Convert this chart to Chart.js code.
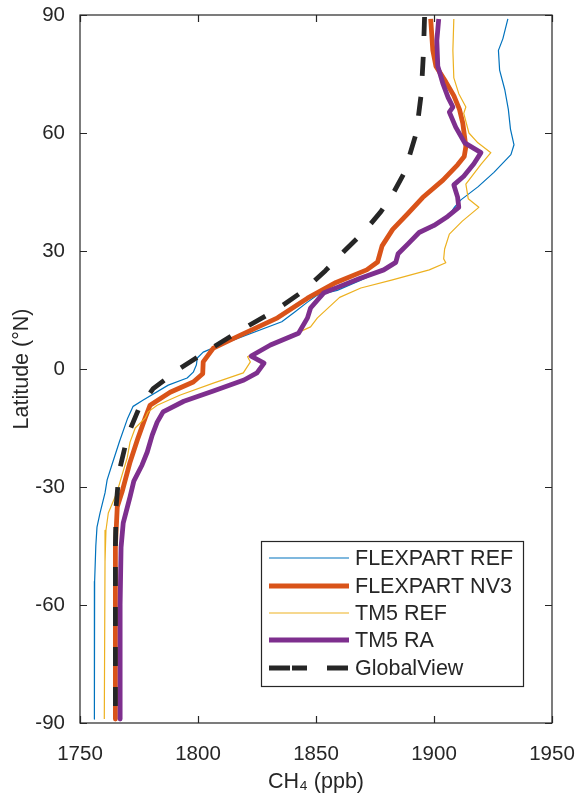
<!DOCTYPE html>
<html>
<head>
<meta charset="utf-8">
<script src="https://cdn.jsdelivr.net/npm/chart.js@4.4.1/dist/chart.umd.min.js"></script>
<style>
  html, body { margin: 0; padding: 0; background: #ffffff; }
  #wrap { width: 577px; height: 803px; position: relative; }
</style>
</head>
<body>
<div id="wrap"><canvas id="c"></canvas></div>
<script>
// ---------- data (latitude in °N, CH4 in ppb) ----------
const seriesNames = ["FLEXPART REF", "FLEXPART NV3", "TM5 REF", "TM5 RA", "GlobalView"];

const latFlexRef = [89, 84, 81, 76, 71, 66, 61, 57, 54.5, 50, 46.3, 43, 41, 38.6, 36.1, 34.6, 32, 29.5, 27, 25.2, 22.6, 20, 18.8, 17, 14.5, 12, 6, 4.3, 2.8, 1, -0.8, -2.3, -4.1, -7.9, -9.5, -12.5, -18.3, -24.4, -28.2, -31.5, -36.6, -40.2, -45, -54, -89];
const ch4FlexRef = [1931.3, 1929.2, 1927.3, 1927.8, 1930, 1931.5, 1932.4, 1933.9, 1932.6, 1925.4, 1918.6, 1911.4, 1908.5, 1905.8, 1899.9, 1894.4, 1889.3, 1885, 1883.8, 1878.7, 1869, 1859, 1850.6, 1846.4, 1841, 1835.5, 1809, 1802.2, 1799.7, 1799.3, 1798, 1795.4, 1787.4, 1776.8, 1772.5, 1770.2, 1766.8, 1763.5, 1761.5, 1760.6, 1758.5, 1757.2, 1756.7, 1756.2, 1756.1];

const latFlexNv3 = [89, 81, 77, 73, 69.5, 66, 62.5, 56.5, 54, 51.9, 48, 43.6, 39.5, 35.5, 31.3, 27.2, 25.2, 22, 18, 13, 8.6, 5.3, 1.8, -1.2, -3.3, -5.9, -9.2, -12.5, -17.5, -23.7, -31.3, -35, -45, -89];
const ch4FlexNv3 = [1898.6, 1899.5, 1900.8, 1905, 1908.4, 1910.8, 1912.2, 1913.5, 1912.8, 1910, 1903.8, 1895.2, 1888.9, 1882.5, 1878, 1876.1, 1871.5, 1858.5, 1846.4, 1833.7, 1818, 1806.5, 1802.2, 1802, 1798, 1788.2, 1779.7, 1777.6, 1774.6, 1771.2, 1767.8, 1765.8, 1765, 1765];

const latTm5Ref = [89, 81, 74, 70, 66.6, 65, 60, 57.5, 55, 52, 47, 43.3, 41.1, 37.6, 34.3, 30.5, 28, 27, 25.2, 22.6, 20.6, 18.2, 13, 10.7, 6.9, 3.1, 1.8, -1, -3.6, -6.6, -9.2, -10.9, -12.5, -15, -18.6, -22.6, -27, -31.3, -36.6, -41, -49, -89];
const ch4Tm5Ref = [1908.4, 1908, 1908.4, 1910.5, 1913.5, 1912.6, 1914.8, 1918.6, 1924.1, 1919.9, 1913.5, 1914.5, 1919, 1912, 1906.5, 1904.5, 1904.1, 1905, 1898, 1882, 1869, 1860, 1850.6, 1847.7, 1833.7, 1821, 1822.2, 1819.2, 1806.5, 1792.5, 1782.7, 1778.9, 1777.6, 1773.4, 1771.2, 1770, 1767.8, 1765.7, 1762, 1761, 1760.6, 1760.3];

const latTm5Ra = [89, 83.5, 77, 72.7, 69, 66.6, 65.3, 61.5, 57.5, 55, 52.2, 49, 46.8, 43.7, 41.1, 38.8, 36.5, 34.7, 31.8, 29.3, 27.1, 25.2, 23, 20.5, 19.3, 15.5, 13, 9.1, 6.1, 3.3, 1.5, -1, -2.8, -5.6, -8.2, -10.9, -13.5, -16.8, -21.1, -24.4, -28.5, -32.5, -39.2, -45.3, -60, -89];
const ch4Tm5Ra = [1902, 1901.2, 1901.6, 1903.7, 1906, 1908, 1906.5, 1909.2, 1913, 1919.9, 1916.9, 1912.6, 1908.4, 1910, 1910.5, 1905.8, 1900, 1893.7, 1889, 1884.8, 1883.8, 1878.7, 1868.5, 1858, 1853.2, 1847.7, 1846.4, 1842.6, 1830.7, 1822.5, 1828, 1825, 1819.5, 1806.5, 1794, 1785.2, 1782.7, 1780.6, 1778.5, 1776.3, 1772.8, 1771.2, 1768.3, 1767.4, 1767, 1767];

const latGlobalView = [89.5, 80, 70, 60, 50, 45, 40, 35, 30, 25, 20, 15, 10, 5, 0, -5, -10, -15, -20, -25, -30, -35, -45, -90];
const ch4GlobalView = [1896, 1895.5, 1894.6, 1892.5, 1887.5, 1883, 1877.5, 1870.5, 1862, 1854, 1845, 1833, 1818.5, 1805, 1792, 1781, 1775, 1771.5, 1769, 1767, 1766, 1765.3, 1765, 1765];

const xTickValues = [1750, 1800, 1850, 1900, 1950];
const yTickValues = [-90, -60, -30, 0, 30, 60, 90];

// ---------- styling ----------
const seriesColors = ["#0072BD", "#D95319", "#EDB120", "#7E2F8E", "#262626"];
const seriesWidths = [1.2, 4.8, 1.2, 4.8, 4.8];
const FONT = "'Liberation Sans', Arial, Helvetica, sans-serif";
const TXT = "#262626";

function pts(lat, ch4) { return lat.map((l, i) => ({ x: ch4[i], y: l })); }
const rawSeries = [
  pts(latFlexRef, ch4FlexRef),
  pts(latFlexNv3, ch4FlexNv3),
  pts(latTm5Ref, ch4Tm5Ref),
  pts(latTm5Ra, ch4Tm5Ra),
  pts(latGlobalView, ch4GlobalView)
];

const datasets = rawSeries.map((d, i) => ({
  label: seriesNames[i],
  data: d,
  showLine: true,
  borderColor: seriesColors[i],
  backgroundColor: seriesColors[i],
  borderWidth: seriesWidths[i],
  borderDash: i === 4 ? [19, 21] : [],
  borderCapStyle: 'butt',
  borderJoinStyle: 'round',
  pointRadius: 0,
  tension: 0,
  fill: false,
  order: 5 - i
}));

// box, inner ticks and legend
const boxPlugin = {
  id: 'boxPlugin',
  afterDraw(chart) {
    const ctx = chart.ctx;
    const a = chart.chartArea;
    const xs = chart.scales.x, ys = chart.scales.y;
    ctx.save();
    ctx.strokeStyle = TXT;
    ctx.lineWidth = 1.2;
    ctx.strokeRect(a.left, a.top, a.right - a.left, a.bottom - a.top);
    const tl = 7;
    ctx.beginPath();
    xTickValues.forEach(v => {
      const p = Math.round(xs.getPixelForValue(v)) + 0.5;
      ctx.moveTo(p, a.bottom); ctx.lineTo(p, a.bottom - tl);
      ctx.moveTo(p, a.top); ctx.lineTo(p, a.top + tl);
    });
    yTickValues.forEach(v => {
      const p = Math.round(ys.getPixelForValue(v)) + 0.5;
      ctx.moveTo(a.left, p); ctx.lineTo(a.left + tl, p);
      ctx.moveTo(a.right, p); ctx.lineTo(a.right - tl, p);
    });
    ctx.stroke();

    // legend
    const lx = 261, ly = 541, lw = 262, lh = 145;
    ctx.fillStyle = '#ffffff';
    ctx.fillRect(lx, ly, lw, lh);
    ctx.strokeStyle = TXT;
    ctx.lineWidth = 1.2;
    ctx.strokeRect(lx + 0.5, ly + 0.5, lw, lh);
    const rowY = [558, 586, 613, 640, 668];
    chart.data.datasets.forEach((ds, i) => {
      const y = rowY[i];
      ctx.save();
      ctx.strokeStyle = ds.borderColor;
      ctx.lineWidth = ds.borderWidth;
      ctx.lineCap = 'butt';
      ctx.beginPath();
      if (i === 4) {
        ctx.moveTo(269, y); ctx.lineTo(290, y);
        ctx.moveTo(292, y); ctx.lineTo(307, y);
        ctx.moveTo(327, y); ctx.lineTo(348, y);
      } else {
        ctx.moveTo(269, y); ctx.lineTo(349, y);
      }
      ctx.stroke();
      ctx.restore();
      ctx.fillStyle = TXT;
      ctx.font = "21.5px " + FONT;
      ctx.textBaseline = 'middle';
      ctx.textAlign = 'left';
      ctx.fillText(ds.label, 355, y + 1);
    });
    ctx.restore();
  }
};

new Chart(document.getElementById('c'), {
  type: 'scatter',
  data: { datasets },
  options: {
    responsive: true,
    maintainAspectRatio: false,
    animation: false,
    layout: { padding: { top: 15, right: 25, left: 0, bottom: 0 } },
    plugins: { legend: { display: false }, tooltip: { enabled: false } },
    scales: {
      x: {
        type: 'linear',
        min: 1750, max: 1950,
        afterBuildTicks: s => { s.ticks = xTickValues.map(v => ({ value: v })); },
        afterFit: s => { s.height = 80; s.paddingLeft = 0; s.paddingRight = 0; },
        grid: { display: false, drawTicks: false },
        border: { display: false },
        ticks: { color: TXT, font: { family: FONT, size: 20.5 }, padding: 19, maxRotation: 0, autoSkip: false, callback: v => String(v) },
        title: { display: true, text: 'CH₄ (ppb)', color: TXT, font: { family: FONT, size: 21.5 }, padding: { top: 0, bottom: 8 } }
      },
      y: {
        type: 'linear',
        min: -90, max: 90,
        afterBuildTicks: s => { s.ticks = yTickValues.map(v => ({ value: v })); },
        afterFit: s => { s.width = 80; s.paddingTop = 0; s.paddingBottom = 0; },
        grid: { display: false, drawTicks: false },
        border: { display: false },
        ticks: { color: TXT, font: { family: FONT, size: 20.5 }, padding: 15, autoSkip: false, callback: v => String(v) },
        title: { display: true, text: 'Latitude (°N)', color: TXT, font: { family: FONT, size: 21.5 }, padding: { top: 9, bottom: 0 } }
      }
    }
  },
  plugins: [boxPlugin]
});
</script>
</body>
</html>
